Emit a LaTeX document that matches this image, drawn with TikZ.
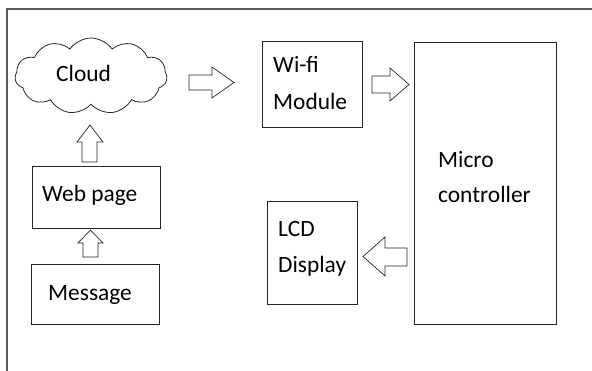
\documentclass[tikz,border=0pt]{standalone}
\usepackage{fontspec}
\setmainfont{Carlito}
\usetikzlibrary{shapes.symbols}
\begin{document}
\begin{tikzpicture}[x=1pt,y=-1pt,
  box/.style={draw=black!85,line width=0.9pt,inner sep=0pt},
  lbl/.style={anchor=base west,inner sep=0pt,font=\fontsize{23.4}{28}\selectfont},
  blockarrow/.style={draw=black!85,line width=0.7pt,fill=white,line join=miter},
  frame/.style={draw=black!65,line width=1.2pt}]
\useasboundingbox (0,0) rectangle (592,371);
% outer frame (only top and left visible)
\draw[frame] (7,375) -- (7,9) -- (596,9);
% cloud
\node[cloud,draw=black!85,line width=0.8pt,cloud puffs=11,cloud puff arc=110,
      minimum width=152pt,minimum height=76pt,inner sep=0pt] (cloud) at (91,76) {};
\node[lbl] (cloudt) at (56,82) {Cloud};
% boxes
\node[box,minimum width=100pt,minimum height=86pt] (wifi) at (312,84) {};
\node[lbl] (wifit1) at (273,73) {Wi-fi};
\node[lbl] (wifit2) at (273,110) {Module};
\node[box,minimum width=142pt,minimum height=282pt] (mcu) at (485,183) {};
\node[lbl] (mcut1) at (438,168) {Micro};
\node[lbl] (mcut2) at (438,203) {controller};
\node[box,minimum width=90pt,minimum height=103pt] (lcd) at (312,252.5) {};
\node[lbl] (lcdt1) at (278,237) {LCD};
\node[lbl] (lcdt2) at (278,273) {Display};
\node[box,minimum width=128pt,minimum height=62pt] (web) at (96,197) {};
\node[lbl] (webt) at (42,202) {Web page};
\node[box,minimum width=128pt,minimum height=60pt] (msg) at (95,294) {};
\node[lbl] (msgt) at (48,301) {Message};
% block arrows
% cloud -> wifi
\draw[blockarrow] (189,75) -- (212,75) -- (212,67) -- (234,82.5) -- (212,98) -- (212,90) -- (189,90) -- cycle;
% wifi -> micro
\draw[blockarrow] (372,76) -- (390,76) -- (390,68) -- (409,84.5) -- (390,101) -- (390,93) -- (372,93) -- cycle;
% micro -> lcd
\draw[blockarrow] (407,248) -- (385,248) -- (385,237) -- (363,256.5) -- (385,276) -- (385,266) -- (407,266) -- cycle;
% web -> cloud
\draw[blockarrow] (82,162) -- (82,142) -- (77,142) -- (90,125) -- (103,142) -- (97,142) -- (97,162) -- cycle;
% message -> web
\draw[blockarrow] (83,257) -- (83,243) -- (78,243) -- (90.5,230) -- (103,243) -- (98,243) -- (98,257) -- cycle;
\end{tikzpicture}
\end{document}
